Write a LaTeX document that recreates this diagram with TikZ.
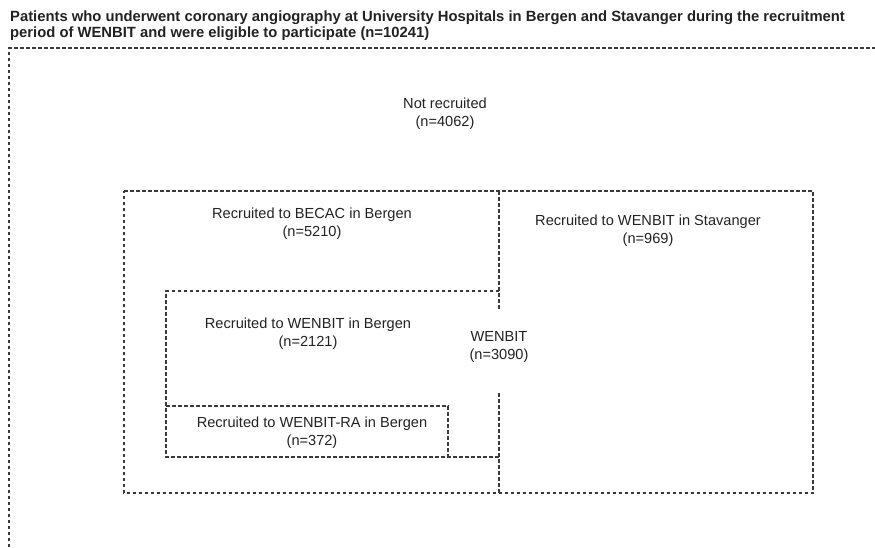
\documentclass[tikz,border=0pt]{standalone}
\usepackage{fontspec}
\setmainfont{Liberation Sans}
\definecolor{txt}{HTML}{222222}
\definecolor{ln}{HTML}{3A3A3A}
\begin{document}
\begin{tikzpicture}[x=1pt,y=-1pt,
  lbl/.style={font=\fontsize{14.6}{18}\selectfont, text=txt, align=center, inner sep=0pt},
  ttl/.style={font=\fontsize{14.8}{16}\selectfont\bfseries, text=txt, align=left, inner sep=0pt},
  dbox/.style={draw=ln, line width=1.2pt, dash pattern=on 3.5pt off 2.5pt}]
\useasboundingbox (0,0) rectangle (875,547);
% title
\node[ttl, anchor=north west] (title) at (10,10.5) {Patients who underwent coronary angiography at University Hospitals in Bergen and Stavanger during the recruitment\\period of WENBIT and were eligible to participate (n=10241)};
% outer (eligible) box: only its top and left edges fall in the picture
\coordinate (o1) at (9,547);
\coordinate (o2) at (9,48);
\coordinate (o3) at (875,48);
\draw[dbox] (o1) -- (o2) -- (o3);
% BECAC + Stavanger outer frame
\coordinate (b-nw) at (124,191);
\coordinate (b-ne) at (813,191);
\coordinate (b-se) at (813,493);
\coordinate (b-sw) at (124,493);
\draw[dbox] (b-nw) -- (b-ne) -- (b-se) -- (b-sw) -- cycle;
% divider at x=499 with gap around WENBIT label
\coordinate (d-top) at (499,191);
\coordinate (d-g1) at (499,310);
\coordinate (d-g2) at (499,393);
\coordinate (d-bot) at (499,493);
\draw[dbox] (d-top) -- (d-g1);
\draw[dbox] (d-g2) -- (d-bot);
% WENBIT Bergen box
\coordinate (w-ne) at (499,291);
\coordinate (w-nw) at (166,291);
\coordinate (w-sw) at (166,457);
\coordinate (w-se) at (499,457);
\draw[dbox] (w-ne) -- (w-nw) -- (w-sw) -- (w-se);
% WENBIT-RA box
\coordinate (r-nw) at (166,406);
\coordinate (r-ne) at (448,406);
\coordinate (r-se) at (448,457);
\draw[dbox] (r-nw) -- (r-ne) -- (r-se);
% labels
\node[lbl] (notrec) at (445,113.5) {Not recruited\\(n=4062)};
\node[lbl] (becac) at (312,224) {Recruited to BECAC in Bergen\\(n=5210)};
\node[lbl] (stav) at (648,231) {Recruited to WENBIT in Stavanger\\(n=969)};
\node[lbl] (wberg) at (308,333.5) {Recruited to WENBIT in Bergen\\(n=2121)};
\node[lbl] (wenbit) at (499,347) {WENBIT\\(n=3090)};
\node[lbl] (wra) at (312,432.5) {Recruited to WENBIT-RA in Bergen\\(n=372)};
\end{tikzpicture}
\end{document}
